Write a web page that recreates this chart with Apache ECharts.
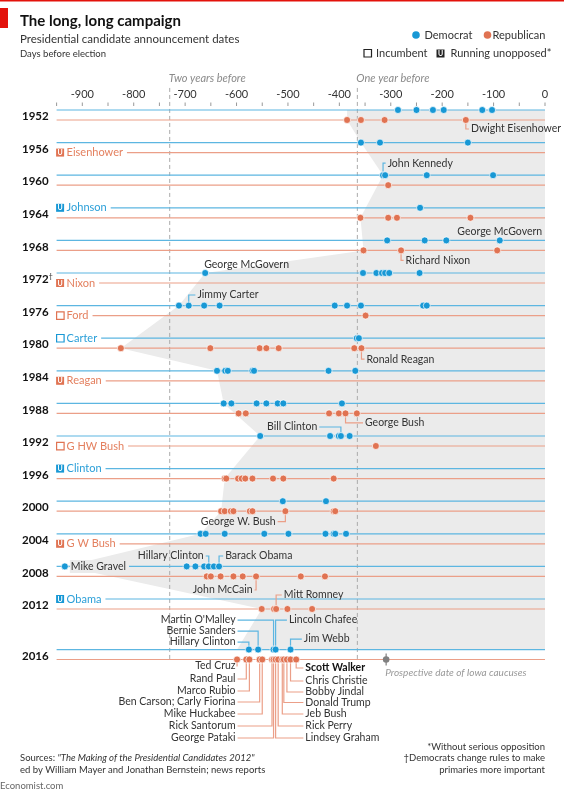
<!DOCTYPE html>
<html>
<head>
<meta charset="utf-8">
<title>The long, long campaign</title>
<script src="https://cdn.jsdelivr.net/npm/echarts@6.0.0/dist/echarts.min.js"></script>
<style>
  html, body { margin: 0; padding: 0; background: #fff; }
  #chart { width: 564px; height: 795px; }
</style>
</head>
<body>
<div id="chart"></div>
<script>
// Elections, one pair of rows (Democrat / Republican) each
var years = [1952, 1956, 1960, 1964, 1968, 1972, 1976, 1980, 1984, 1988, 1992, 1996, 2000, 2004, 2008, 2012, 2016];

// Announcement dates, days before election
var demDays = [
  [-286, -250, -218, -197, -122, -103],
  [-358, -321, -150],
  [-315, -311, -230, -101],
  [-243],
  [-307, -234, -192, -88],
  [-661, -354, -328, -317, -311, -303, -244],
  [-712, -693, -663, -633, -409, -385, -358, -237, -230],
  [-366, -362],
  [-638, -622, -617, -569, -566, -421, -369],
  [-625, -610, -561, -542, -520, -509, -395],
  [-554, -418, -401, -397, -380],
  [],
  [-510, -426],
  [-670, -660, -623, -546, -499, -427, -411, -408, -387],
  [-934, -697, -680, -663, -654, -644, -634],
  [],
  [-576, -558, -528, -524, -495]
];
var repDays = [
  [-385, -358, -312, -154],
  [],
  [-305],
  [-359, -305, -288, -145],
  [-353, -280, -93],
  [],
  [-349],
  [-825, -651, -555, -542, -518, -371, -357],
  [],
  [-596, -582, -420, -401, -388, -366],
  [-329],
  [-623, -620, -597, -590, -583, -569, -529, -509, -411],
  [-630, -623, -611, -606, -574, -569, -505, -411, -408],
  [],
  [-658, -650, -631, -606, -588, -562, -475, -428],
  [-551, -527, -523, -501, -453],
  [-599, -581, -575, -555, -555, -550, -531, -528, -524, -519, -511, -508, -502, -495, -484]
];

// Incumbents: year, party, name, running unopposed
var incumbents = [
  [1956, 'R', 'Eisenhower', true],
  [1964, 'D', 'Johnson', true],
  [1972, 'R', 'Nixon', true],
  [1976, 'R', 'Ford', false],
  [1980, 'D', 'Carter', false],
  [1984, 'R', 'Reagan', true],
  [1992, 'R', 'G HW Bush', false],
  [1996, 'D', 'Clinton', true],
  [2004, 'R', 'G W Bush', true],
  [2012, 'D', 'Obama', true]
];

// Named candidates: year, day, name
var namedDem = [
  [1960, -315, 'John Kennedy'],
  [1968, -88, 'George McGovern'],
  [1972, -661, 'George McGovern'],
  [1976, -693, 'Jimmy Carter'],
  [1992, -397, 'Bill Clinton'],
  [2008, -934, 'Mike Gravel'],
  [2008, -654, 'Hillary Clinton'],
  [2008, -634, 'Barack Obama'],
  [2016, -576, 'Hillary Clinton'],
  [2016, -558, 'Bernie Sanders'],
  [2016, -528, "Martin O'Malley"],
  [2016, -524, 'Lincoln Chafee'],
  [2016, -495, 'Jim Webb']
];
var namedRep = [
  [1952, -154, 'Dwight Eisenhower'],
  [1968, -280, 'Richard Nixon'],
  [1980, -357, 'Ronald Reagan'],
  [1988, -388, 'George Bush'],
  [2000, -505, 'George W. Bush'],
  [2008, -562, 'John McCain'],
  [2012, -523, 'Mitt Romney'],
  [2016, -599, 'Ted Cruz'],
  [2016, -581, 'Rand Paul'],
  [2016, -575, 'Marco Rubio'],
  [2016, -555, 'Ben Carson; Carly Fiorina'],
  [2016, -550, 'Mike Huckabee'],
  [2016, -531, 'Rick Santorum'],
  [2016, -528, 'George Pataki'],
  [2016, -484, 'Scott Walker'],
  [2016, -495, 'Chris Christie'],
  [2016, -502, 'Bobby Jindal'],
  [2016, -508, 'Donald Trump'],
  [2016, -511, 'Jeb Bush'],
  [2016, -519, 'Rick Perry'],
  [2016, -524, 'Lindsey Graham']
];

// Reference marks on the day axis
var markerDays = [-730, -365];
var markerNames = ['Two years before', 'One year before'];
var iowaDay = -309;

// ---- layout ----
var rowPos = [0, 1, 2, 3, 4, 5, 6, 7, 8, 9, 10, 11, 12, 13, 14, 15, 16.55];
var ROW_OFF = 0.153;
// label layout: [dy px from dot, leader end (day) or null, align, extra dx]
var demLayout = [
  [-12, -310, 'left'],
  [-9, null, 'center'],
  [-8.5, null, 'left', -1],
  [-10.6, -680, 'left'],
  [-9, -439, 'right'],
  [0, null, 'left', 5],
  [-10.4, -660, 'right'],
  [-10.4, -626, 'left'],
  [-7.5, -598, 'right'],
  [-18.5, -598, 'right'],
  [-29.5, -598, 'right'],
  [-29.5, -502, 'left'],
  [-10.5, -473, 'left']
];
var repLayout = [
  [9, -148, 'left'],
  [10, -275, 'left'],
  [11, -351, 'left'],
  [9.5, -354, 'left'],
  [10.5, -520, 'right'],
  [13.6, -565, 'right'],
  [-14, -512, 'left'],
  [6.5, -598, 'right'],
  [19.5, -598, 'right'],
  [31.5, -598, 'right'],
  [42.5, -598, 'right'],
  [54.5, -598, 'right'],
  [66.5, -598, 'right'],
  [78.5, -598, 'right'],
  [8.5, -470, 'left'],
  [21.5, -470, 'left'],
  [32.5, -470, 'left'],
  [43, -470, 'left'],
  [54.5, -470, 'left'],
  [66.5, -470, 'left'],
  [78.5, -470, 'left']
];

var FONT = 'Lato, "Noto Sans", sans-serif';
var BLUE = '#1898d5', BLUE_LINE = '#5db6e1', BLUE_TXT = '#2a9fd8';
var RED = '#e07352', RED_LINE = '#eb9f88', RED_TXT = '#e4805f';
var SHADE = '#ebebeb';
var X_MIN = -950, X_MAX = 0, X_STEP = 50;

function rowY(i, party) {
  return rowPos[i] + (party === 'D' ? -ROW_OFF : ROW_OFF);
}

var demPts = [], repPts = [];
years.forEach(function (y, i) {
  demDays[i].forEach(function (d) { demPts.push([d, rowY(i, 'D')]); });
  repDays[i].forEach(function (d) { repPts.push([d, rowY(i, 'R')]); });
});

// grey area from the earliest announcement of each election to election day
var last = years.length - 1;
var shadePts = [];
years.forEach(function (y, i) {
  var all = demDays[i].map(function (d) { return [d, 'D']; })
    .concat(repDays[i].map(function (d) { return [d, 'R']; }));
  var m = all.reduce(function (a, b) { return b[0] < a[0] ? b : a; });
  if (i === 0) {
    shadePts.push([X_MAX, rowY(0, 'D')]);
    shadePts.push([m[0], rowY(0, 'D')]);
  }
  shadePts.push([m[0], i === last ? rowY(i, 'D') : rowY(i, m[1])]);
});
shadePts.push([X_MAX, rowY(last, 'D')]);

var tickDays = [];
for (var t = X_MIN; t <= X_MAX; t += X_STEP) tickDays.push(t);

var labels = [];
namedDem.forEach(function (n, k) { labels.push({ p: 'D', year: n[0], day: n[1], name: n[2], lay: demLayout[k] }); });
namedRep.forEach(function (n, k) { labels.push({ p: 'R', year: n[0], day: n[1], name: n[2], lay: repLayout[k] }); });

var chart = echarts.init(document.getElementById('chart'));

var option = {
  animation: false,
  backgroundColor: '#fff',
  grid: { left: 56.6, right: 19, top: 106.5, bottom: 50 },
  xAxis: {
    type: 'value',
    position: 'top',
    min: X_MIN,
    max: X_MAX,
    interval: X_STEP,
    axisLine: { show: false },
    axisTick: { show: false },
    splitLine: { show: false },
    axisLabel: {
      margin: 7,
      color: '#333',
      fontFamily: FONT,
      fontSize: 11,
      formatter: function (v) { return v % 100 === 0 ? String(v) : ''; }
    }
  },
  yAxis: {
    type: 'value',
    inverse: true,
    min: -0.2607,
    max: 19.325,
    show: false
  },
  graphic: [
    { type: 'rect', shape: { x: 0, y: 0, width: 564, height: 1.5 }, style: { fill: '#e3120b' } },
    { type: 'rect', shape: { x: 0, y: 8, width: 8, height: 20 }, style: { fill: '#e3120b' } },
    { type: 'text', x: 20, y: 21, style: { text: 'The long, long campaign', font: 'bold 15px ' + FONT, fill: '#111', verticalAlign: 'middle', textVerticalAlign: 'middle' } },
    { type: 'text', x: 20, y: 39, style: { text: 'Presidential candidate announcement dates', font: '11.5px ' + FONT, fill: '#333', verticalAlign: 'middle', textVerticalAlign: 'middle' } },
    { type: 'text', x: 20, y: 53.5, style: { text: 'Days before election', font: '9.5px ' + FONT, fill: '#333', verticalAlign: 'middle', textVerticalAlign: 'middle' } },
    { type: 'circle', shape: { cx: 416, cy: 35, r: 3.8 }, style: { fill: BLUE } },
    { type: 'text', x: 424.5, y: 35, style: { text: 'Democrat', font: '11px ' + FONT, fill: '#333', verticalAlign: 'middle', textVerticalAlign: 'middle' } },
    { type: 'circle', shape: { cx: 487.5, cy: 35, r: 3.8 }, style: { fill: RED } },
    { type: 'text', x: 492.5, y: 35, style: { text: 'Republican', font: '11px ' + FONT, fill: '#333', verticalAlign: 'middle', textVerticalAlign: 'middle' } },
    { type: 'rect', shape: { x: 364, y: 49.5, width: 7.5, height: 7.5 }, style: { fill: '#fff', stroke: '#222', lineWidth: 1.2 } },
    { type: 'text', x: 376, y: 53.5, style: { text: 'Incumbent', font: '11px ' + FONT, fill: '#333', verticalAlign: 'middle', textVerticalAlign: 'middle' } },
    { type: 'rect', shape: { x: 436.5, y: 49.5, width: 8, height: 8 }, style: { fill: '#222' } },
    { type: 'text', x: 440.5, y: 53.8, style: { text: 'U', font: 'bold 7px ' + FONT, fill: '#fff', align: 'center', textAlign: 'center', verticalAlign: 'middle', textVerticalAlign: 'middle' } },
    { type: 'text', x: 450.5, y: 53.5, style: { text: 'Running unopposed*', font: '11px ' + FONT, fill: '#333', verticalAlign: 'middle', textVerticalAlign: 'middle' } },
    { type: 'text', x: 20, y: 758, style: {
      text: '{n|Sources: }{i|"The Making of the Presidential Candidates 2012"}',
      rich: { n: { font: '9.5px ' + FONT, fill: '#333' }, i: { font: 'italic 9.5px ' + FONT, fill: '#333' } },
      verticalAlign: 'middle', textVerticalAlign: 'middle' } },
    { type: 'text', x: 20, y: 769.5, style: { text: 'ed by William Mayer and Jonathan Bernstein; news reports', font: '9.5px ' + FONT, fill: '#333', verticalAlign: 'middle', textVerticalAlign: 'middle' } },
    { type: 'text', x: 0, y: 786, style: { text: 'Economist.com', font: '9.5px ' + FONT, fill: '#666', verticalAlign: 'middle', textVerticalAlign: 'middle' } },
    { type: 'text', x: 545, y: 746.5, style: { text: '*Without serious opposition', font: '9.5px ' + FONT, fill: '#333', align: 'right', textAlign: 'right', verticalAlign: 'middle', textVerticalAlign: 'middle' } },
    { type: 'text', x: 545, y: 758, style: { text: '\u2020Democrats change rules to make', font: '9.5px ' + FONT, fill: '#333', align: 'right', textAlign: 'right', verticalAlign: 'middle', textVerticalAlign: 'middle' } },
    { type: 'text', x: 545, y: 769.5, style: { text: 'primaries more important', font: '9.5px ' + FONT, fill: '#333', align: 'right', textAlign: 'right', verticalAlign: 'middle', textVerticalAlign: 'middle' } }
  ],
  series: [
    {
      // shaded campaign area
      type: 'custom',
      z: 1,
      silent: true,
      data: [0],
      renderItem: function (params, api) {
        return {
          type: 'polygon',
          shape: { points: shadePts.map(function (p) { return api.coord(p); }) },
          style: { fill: SHADE }
        };
      }
    },
    {
      // small ticks under the day labels
      type: 'custom',
      z: 2,
      silent: true,
      data: tickDays,
      renderItem: function (params, api) {
        var p = api.coord([tickDays[params.dataIndex], -0.2607]);
        return { type: 'line', shape: { x1: p[0], y1: p[1] - 4, x2: p[0], y2: p[1] - 0.5 },
          style: { stroke: '#999', lineWidth: 1 } };
      }
    },
    {
      // one and two years before
      type: 'custom',
      z: 2,
      silent: true,
      data: markerDays.map(function (d, k) { return k; }),
      renderItem: function (params, api) {
        var d = markerDays[params.dataIndex];
        var top = api.coord([d, -0.83]);
        var bot = api.coord([d, rowY(last, 'R')]);
        return {
          type: 'group',
          children: [
            { type: 'line', shape: { x1: top[0], y1: top[1], x2: bot[0], y2: bot[1] },
              style: { stroke: '#aaa', lineWidth: 1, lineDash: [4, 3] } },
            { type: 'text', style: { text: markerNames[params.dataIndex], x: top[0] - 1, y: top[1] - 9,
              font: 'italic 11px ' + FONT, fill: '#8a8a8a', verticalAlign: 'middle', textVerticalAlign: 'middle' } }
          ]
        };
      }
    },
    {
      // row lines and year labels
      type: 'custom',
      z: 3,
      silent: true,
      data: years.map(function (y, i) { return i; }),
      renderItem: function (params, api) {
        var i = params.dataIndex;
        var b0 = api.coord([X_MIN, rowY(i, 'D')]), b1 = api.coord([X_MAX, rowY(i, 'D')]);
        var r0 = api.coord([X_MIN, rowY(i, 'R')]), r1 = api.coord([X_MAX, rowY(i, 'R')]);
        var c = api.coord([X_MIN, rowPos[i]]);
        var yr = years[i] === 1972 ? '{y|1972}{s|\u2020}' : '{y|' + years[i] + '}';
        return {
          type: 'group',
          children: [
            { type: 'line', shape: { x1: b0[0], y1: b0[1], x2: b1[0], y2: b1[1] }, style: { stroke: BLUE_LINE, lineWidth: 1.2 } },
            { type: 'line', shape: { x1: r0[0], y1: r0[1], x2: r1[0], y2: r1[1] }, style: { stroke: RED_LINE, lineWidth: 1.2 } },
            { type: 'text', style: { text: yr, x: 22, y: c[1] + 1.5, verticalAlign: 'middle', textVerticalAlign: 'middle',
              rich: { y: { font: 'bold 11.5px ' + FONT, fill: '#111' }, s: { font: '7px ' + FONT, fill: '#111', verticalAlign: 'top', padding: [0, 0, 6, 0] } } } }
          ]
        };
      }
    },
    {
      // incumbent tags
      type: 'custom',
      z: 4,
      silent: true,
      data: incumbents.map(function (n, k) { return k; }),
      renderItem: function (params, api) {
        var n = incumbents[params.dataIndex];
        var i = years.indexOf(n[0]);
        var p = api.coord([X_MIN, rowY(i, n[1])]);
        var col = n[1] === 'D' ? BLUE : RED;
        var tcol = n[1] === 'D' ? BLUE_TXT : RED_TXT;
        var kids = [
          { type: 'rect', shape: { x: p[0] - 1.5, y: p[1] - 5, width: 12, height: 10 }, style: { fill: '#fff' } }
        ];
        if (n[3]) {
          kids.push({ type: 'rect', shape: { x: p[0] - 0.5, y: p[1] - 4, width: 8, height: 8 }, style: { fill: col } });
          kids.push({ type: 'text', style: { text: 'U', x: p[0] + 3.5, y: p[1] + 0.4, font: 'bold 7px ' + FONT, fill: '#fff',
            align: 'center', textAlign: 'center', verticalAlign: 'middle', textVerticalAlign: 'middle' } });
        } else {
          kids.push({ type: 'rect', shape: { x: p[0], y: p[1] - 3.7, width: 7.5, height: 7.5 }, style: { fill: '#fff', stroke: col, lineWidth: 1.2 } });
        }
        kids.push({ type: 'text', style: { text: n[2], x: p[0] + 10, y: p[1], font: '11px ' + FONT, fill: tcol,
          backgroundColor: '#fff', padding: [1, 4, 1, 0], verticalAlign: 'middle', textVerticalAlign: 'middle' } });
        return { type: 'group', children: kids };
      }
    },
    {
      // leader lines and names
      type: 'custom',
      z: 5,
      silent: true,
      data: labels.map(function (l, k) { return k; }),
      renderItem: function (params, api) {
        var l = labels[params.dataIndex];
        var i = years.indexOf(l.year);
        var p = api.coord([l.day, rowY(i, l.p)]);
        var dy = l.lay[0], tx = l.lay[1], align = l.lay[2], dx = l.lay[3] || 0;
        var y = p[1] + dy;
        var kids = [];
        var ax = p[0];
        if (tx !== null) {
          ax = api.coord([tx, 0])[0];
          kids.push({ type: 'polyline', shape: { points: [[p[0], p[1]], [p[0], y], [ax, y]] },
            style: { stroke: l.p === 'D' ? BLUE_LINE : RED_LINE, lineWidth: 1.2, fill: null } });
          ax += align === 'left' ? 2 : -2;
        }
        var bold = l.name === 'Scott Walker';
        var st = { text: l.name, x: ax + dx, y: y, font: (bold ? 'bold ' : '') + '10.5px ' + FONT, fill: bold ? '#111' : '#333',
          align: align, textAlign: align, verticalAlign: 'middle', textVerticalAlign: 'middle' };
        if (l.name === 'Mike Gravel') { st.backgroundColor = SHADE; st.padding = [1, 3, 1, 1]; }
        kids.push({ type: 'text', style: st });
        return { type: 'group', children: kids };
      }
    },
    {
      name: 'Democrat',
      type: 'scatter',
      z: 6,
      symbolSize: 7,
      data: demPts,
      itemStyle: { color: BLUE, borderColor: '#fff', borderWidth: 0.7, opacity: 1 },
      emphasis: { disabled: true }
    },
    {
      name: 'Republican',
      type: 'scatter',
      z: 6,
      symbolSize: 7,
      data: repPts,
      itemStyle: { color: RED, borderColor: '#fff', borderWidth: 0.7, opacity: 1 },
      emphasis: { disabled: true }
    },
    {
      // Iowa caucus marker
      type: 'custom',
      z: 7,
      silent: true,
      data: [iowaDay],
      renderItem: function (params, api) {
        var p = api.coord([iowaDay, rowY(last, 'R')]);
        return {
          type: 'group',
          children: [
            { type: 'line', shape: { x1: p[0], y1: p[1] - 6, x2: p[0], y2: p[1] + 6 }, style: { stroke: '#808080', lineWidth: 1.2 } },
            { type: 'circle', shape: { cx: p[0], cy: p[1], r: 3.3 }, style: { fill: '#808080' } },
            { type: 'text', style: { text: 'Prospective date of Iowa caucuses', x: p[0] - 1, y: p[1] + 13,
              font: 'italic 10px ' + FONT, fill: '#999', verticalAlign: 'middle', textVerticalAlign: 'middle' } }
          ]
        };
      }
    }
  ]
};

chart.setOption(option);
</script>
</body>
</html>
